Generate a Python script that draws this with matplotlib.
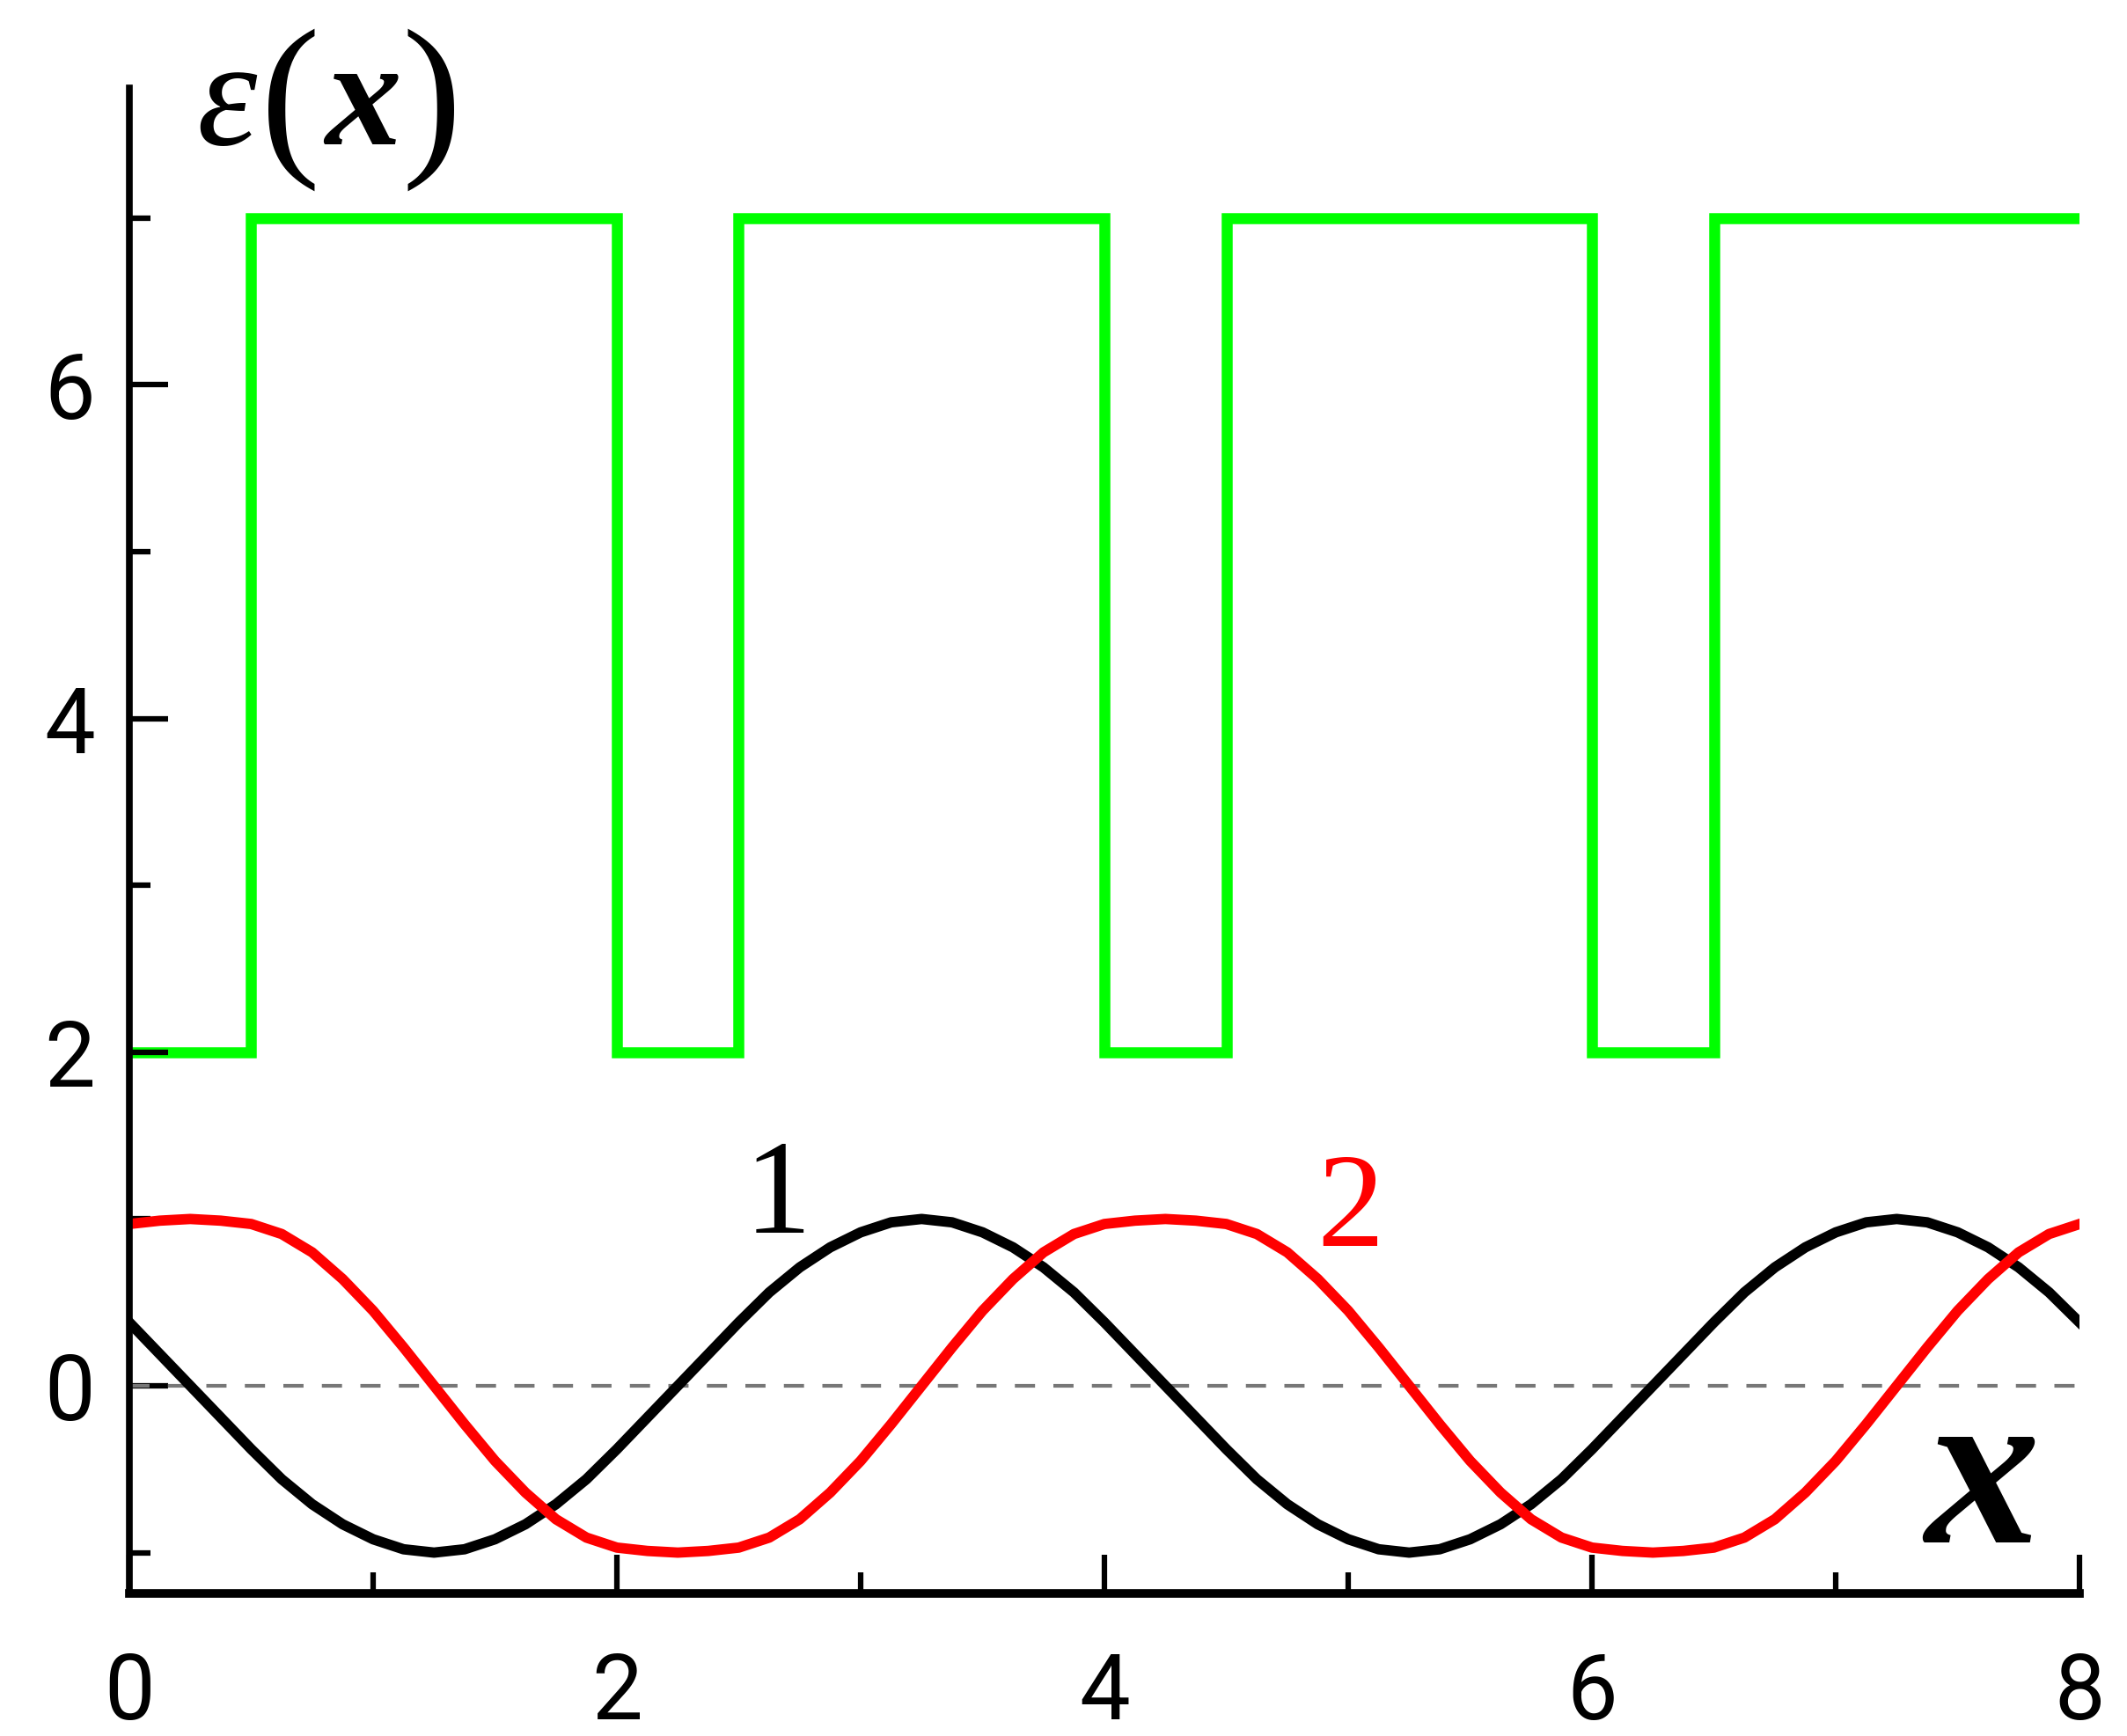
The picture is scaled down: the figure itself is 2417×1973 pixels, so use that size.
"""Permittivity profile eps(x) of a layered medium with two band-edge field profiles."""

import matplotlib

matplotlib.use("Agg")
import matplotlib.pyplot as plt
from matplotlib.ticker import MultipleLocator

# layer boundaries and permittivity of each layer
eps_edges = [0.0, 0.5, 2.0, 2.5, 4.0, 4.5, 6.0, 6.5, 8.0]
eps_values = [2, 7, 2, 7, 2, 7, 2, 7]

# sample positions for the two field curves
x_samples = [
    0.0, 0.125, 0.25, 0.375, 0.5, 0.625, 0.75, 0.875,
    1.0, 1.125, 1.25, 1.375, 1.5, 1.625, 1.75, 1.875,
    2.0, 2.125, 2.25, 2.375, 2.5, 2.625, 2.75, 2.875,
    3.0, 3.125, 3.25, 3.375, 3.5, 3.625, 3.75, 3.875,
    4.0, 4.125, 4.25, 4.375, 4.5, 4.625, 4.75, 4.875,
    5.0, 5.125, 5.25, 5.375, 5.5, 5.625, 5.75, 5.875,
    6.0, 6.125, 6.25, 6.375, 6.5, 6.625, 6.75, 6.875,
    7.0, 7.125, 7.25, 7.375, 7.5, 7.625, 7.75, 7.875,
    8.0,
]

# curve 1 (black)
field_1 = [
    0.38, 0.19, 0.00, -0.19, -0.38, -0.56, -0.71, -0.83,
    -0.92, -0.98, -1.00, -0.98, -0.92, -0.83, -0.71, -0.56,
    -0.38, -0.19, 0.00, 0.19, 0.38, 0.56, 0.71, 0.83,
    0.92, 0.98, 1.00, 0.98, 0.92, 0.83, 0.71, 0.56,
    0.38, 0.19, 0.00, -0.19, -0.38, -0.56, -0.71, -0.83,
    -0.92, -0.98, -1.00, -0.98, -0.92, -0.83, -0.71, -0.56,
    -0.38, -0.19, 0.00, 0.19, 0.38, 0.56, 0.71, 0.83,
    0.92, 0.98, 1.00, 0.98, 0.92, 0.83, 0.71, 0.56,
    0.38,
]

# curve 2 (red)
field_2 = [
    0.97, 0.99, 1.00, 0.99, 0.97, 0.91, 0.80, 0.64,
    0.45, 0.23, 0.00, -0.23, -0.45, -0.64, -0.80, -0.91,
    -0.97, -0.99, -1.00, -0.99, -0.97, -0.91, -0.80, -0.64,
    -0.45, -0.23, 0.00, 0.23, 0.45, 0.64, 0.80, 0.91,
    0.97, 0.99, 1.00, 0.99, 0.97, 0.91, 0.80, 0.64,
    0.45, 0.23, 0.00, -0.23, -0.45, -0.64, -0.80, -0.91,
    -0.97, -0.99, -1.00, -0.99, -0.97, -0.91, -0.80, -0.64,
    -0.45, -0.23, 0.00, 0.23, 0.45, 0.64, 0.80, 0.91,
    0.97,
]

x_ticks = [0, 2, 4, 6, 8]
y_ticks = [0, 2, 4, 6]

plt.rcParams["font.family"] = "Roboto"

fig = plt.figure(figsize=(24.17, 19.73), dpi=100)
ax = fig.add_axes([0.0608, 0.0821, 0.9169, 0.8672])

ax.stairs(eps_values, eps_edges, baseline=None, color="#00ff00", linewidth=9)
ax.axhline(0, color="#777777", linewidth=3, dashes=(5.5, 5))
ax.plot(x_samples, field_1, color="black", linewidth=8.5, solid_joinstyle="round")
ax.plot(x_samples, field_2, color="#ff0000", linewidth=8.5, solid_joinstyle="round")

ax.set_xlim(0, 8)
ax.set_ylim(-1.245, 7.78)

for side in ("top", "right"):
    ax.spines[side].set_visible(False)
ax.spines["left"].set_linewidth(5.5)
ax.spines["bottom"].set_linewidth(7)

ax.set_xticks(x_ticks)
ax.set_yticks(y_ticks)
ax.xaxis.set_minor_locator(MultipleLocator(1))
ax.yaxis.set_minor_locator(MultipleLocator(1))
ax.set_xticklabels([str(v) for v in x_ticks], family="Roboto")
ax.set_yticklabels([str(v) for v in y_ticks], family="Roboto")
ax.tick_params(axis="both", which="major", direction="in", length=32, width=4.5, labelsize=74)
ax.tick_params(axis="both", which="minor", direction="in", length=17, width=4.5)
ax.tick_params(axis="x", which="major", pad=47)
ax.tick_params(axis="y", which="major", pad=28)

serif = "Liberation Serif"
# eps(x) label, pieces set one by one
ax.text(0.40, 7.44, "\u03b5", family=serif, style="italic", fontsize=125,
        ha="center", va="baseline")
ax.text(0.66, 7.39, "(", family=serif, fontsize=147, ha="center", va="baseline")
ax.text(0.96, 7.44, "x", family=serif, style="italic", weight="bold", fontsize=125,
        ha="center", va="baseline")
ax.text(1.24, 7.39, ")", family=serif, fontsize=147, ha="center", va="baseline")

ax.text(2.66, 0.92, "1", family=serif, fontsize=110, color="black", ha="center", va="baseline")
ax.text(5.01, 0.84, "2", family=serif, fontsize=110, color="#ff0000", ha="center", va="baseline")
ax.text(7.6, -0.94, "x", family=serif, style="italic", weight="bold", fontsize=188,
        ha="center", va="baseline")

fig.savefig("out.png", dpi=100)
plt.close(fig)
